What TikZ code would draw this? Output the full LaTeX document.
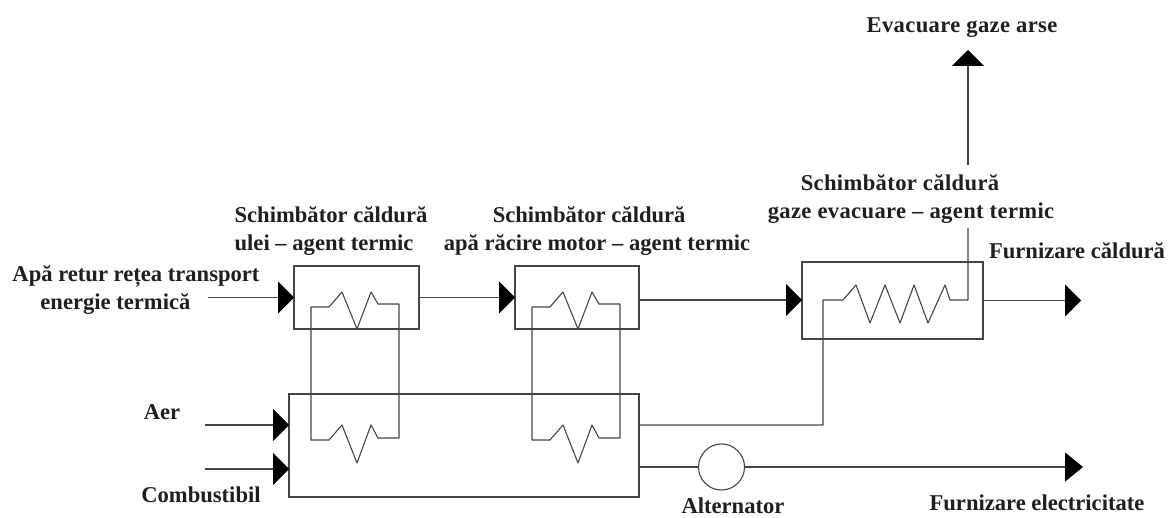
\documentclass[tikz,border=0pt]{standalone}
\usepackage{fontspec}
\setmainfont{Liberation Serif}
\usetikzlibrary{arrows.meta}
\definecolor{ln}{gray}{0.27}
\definecolor{tx}{gray}{0.12}
\tikzset{
  x=1pt,y=-1pt,
  every path/.style={line width=1.1pt},
  unit/.style={draw=ln,rectangle,inner sep=0pt,outer sep=0pt},
  wire/.style={draw=ln},
  feed/.style={draw=ln,-{Triangle[length=16pt,width=32pt,fill=black,color=black]}},
  feedb/.style={draw=ln,-{Triangle[length=18pt,width=29pt,fill=black,color=black]}},
  lbl/.style={text=tx,font=\fontsize{22.6}{28}\selectfont\bfseries,inner sep=0pt,align=center},
  wide/.style={font=\fontsize{22.6}{28}\selectfont\bfseries\addfontfeature{LetterSpace=1.6}},
  gen/.style={draw=ln,circle,inner sep=0pt,outer sep=0pt,minimum size=46pt},
  pt/.style={coordinate}
}
\begin{document}
\begin{tikzpicture}
\useasboundingbox (0,0) rectangle (1168,518);
% units
\node[unit,minimum width=125pt,minimum height=63pt] (b1) at (356.5,297.5) {};
\node[unit,minimum width=124pt,minimum height=63pt] (b2) at (577,297.5) {};
\node[unit,minimum width=181pt,minimum height=77pt] (b3) at (892.5,300.5) {};
\node[unit,minimum width=350pt,minimum height=103pt] (eng) at (464,445.5) {};
\node[gen] (alt) at (721.5,467) {};
% free ends
\node[pt] (inw) at (208,297.5) {};
\node[pt] (outh) at (1081,300.5) {};
\node[pt] (aerin) at (205,425) {};
\node[pt] (aerend) at (289,425) {};
\node[pt] (cbin) at (205,469) {};
\node[pt] (cbend) at (289,469) {};
\node[pt] (engo) at (639,425) {};
\node[pt] (engc) at (823,425) {};
\node[pt] (enga) at (639,467) {};
\node[pt] (oute) at (1083,467) {};
\node[pt] (gasout) at (968,50) {};
\node[pt] (gasup) at (968,165) {};
\node[pt] (gaslow) at (968,228) {};
\node[pt] (c3l) at (823,300) {};
\node[pt] (b2o) at (639,300) {};
\node[pt] (b3i) at (802,300) {};
% flows
\draw[feed] (inw) -- (b1.west);
\draw[feed] (b1.east) -- (b2.west);
\draw[feed] (b2o) -- (b3i);
\draw[feed] (b3.east) -- (outh);
\draw[feed] (aerin) -- (aerend);
\draw[feed] (cbin) -- (cbend);
\draw[wire] (enga) -- (alt.west);
\draw[feedb] (alt.east) -- (oute);
\draw[feed] (gasup) -- (gasout);
% coil loops
\foreach \d in {0,221}{
  \draw[wire,line join=round] (311+\d,307) -- (329+\d,307) -- (342+\d,292) -- (357+\d,329) -- (371+\d,292) -- (378+\d,304) -- (399+\d,304)
    -- (399+\d,438) -- (378+\d,438) -- (371+\d,425) -- (357+\d,463) -- (342+\d,425) -- (329+\d,440) -- (311+\d,440) -- cycle;
}
% third exchanger coil
\draw[wire,line join=round] (engo) -- (engc) -- (c3l) -- (843,300) -- (856,285) -- (870,323) -- (885,285) -- (900,323) -- (914,285) -- (928,323) -- (945,285) -- (950,300) -- (968,300) -- (gaslow);
% labels
\node[lbl,wide] (t1) at (962,28) {Evacuare gaze arse};
\node[lbl,align=left] (t2) at (331,231) {Schimbător căldură\\ulei – agent termic};
\node[lbl,align=left] (t3) at (597,231) {\hspace*{49pt}Schimbător căldură\\apă răcire motor – agent termic};
\node[lbl,wide,align=left] (t4) at (911,199.5) {\hspace*{33pt}Schimbător căldură\\gaze evacuare – agent termic};
\node[lbl] (t5) at (1077,251) {Furnizare căldură};
\node[lbl,align=left] (t6) at (136,290.5) {Apă retur rețea transport\\\hspace*{28pt}energie termică};
\node[lbl] (t7) at (162,412) {Aer};
\node[lbl] (t8) at (201,495) {Combustibil};
\node[lbl] (t9) at (733,505.5) {Alternator};
\node[lbl] (t10) at (1037,503) {Furnizare electricitate};
\end{tikzpicture}
\end{document}
